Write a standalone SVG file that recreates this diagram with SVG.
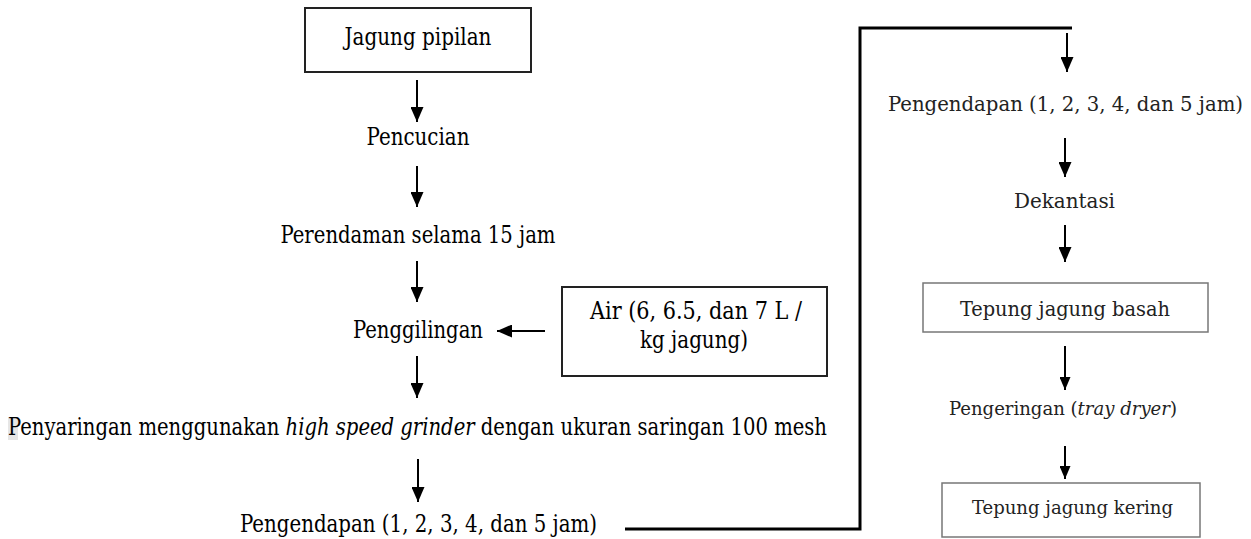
<svg xmlns="http://www.w3.org/2000/svg" width="1251" height="539" viewBox="0 0 1251 539">
<style>
.t{font-family:'DejaVu Serif Condensed','DejaVu Serif',serif;font-size:25px;fill:#000}
.r{font-family:'DejaVu Serif Condensed','DejaVu Serif',serif;font-size:21px;fill:#222}
.rs{font-family:'DejaVu Serif Condensed','DejaVu Serif',serif;font-size:18px;fill:#222}
.i{font-style:italic}
.box{fill:#fff;stroke:#222;stroke-width:2}
.gbox{fill:#fff;stroke:#777;stroke-width:1.5}
.ar{stroke:#000;stroke-width:2;fill:none;marker-end:url(#ah)}
.ars{stroke:#000;stroke-width:2;fill:none;marker-end:url(#ahs)}
.ln{stroke:#000;stroke-width:3;fill:none}
</style>
<defs>
<marker id="ah" viewBox="0 0 15 13" refX="15" refY="6.5" markerWidth="15" markerHeight="13" markerUnits="userSpaceOnUse" orient="auto">
<path d="M0,0 L15,6.5 L0,13 Z" fill="#000"/>
</marker>
<marker id="ahs" viewBox="0 0 13 11" refX="13" refY="5.5" markerWidth="13" markerHeight="11" markerUnits="userSpaceOnUse" orient="auto">
<path d="M0,0 L13,5.5 L0,11 Z" fill="#000"/>
</marker>
</defs>
<rect width="1251" height="539" fill="#fff"/>

<g id="connectors">
<line class="ar" x1="417" y1="80" x2="417" y2="122"/>
<line class="ar" x1="417" y1="166" x2="417" y2="207"/>
<line class="ar" x1="417" y1="261" x2="417" y2="302"/>
<line class="ar" x1="545" y1="331" x2="497" y2="331"/>
<line class="ar" x1="417" y1="356" x2="417" y2="398"/>
<line class="ar" x1="418" y1="459" x2="418" y2="502"/>
<polyline class="ln" points="625,529 860,529 860,28 1072,28"/>
<line class="ar" x1="1067" y1="33" x2="1067" y2="72"/>
<line class="ar" x1="1065" y1="138" x2="1065" y2="177"/>
<line class="ar" x1="1065" y1="225" x2="1065" y2="262"/>
<line class="ars" x1="1065" y1="346" x2="1065" y2="390"/>
<line class="ars" x1="1065" y1="446" x2="1065" y2="479"/>
</g>

<g id="n1">
<rect class="box" x="305" y="8" width="226" height="64"/>
<text class="t" x="418" y="45" text-anchor="middle" textLength="147" lengthAdjust="spacingAndGlyphs">Jagung pipilan</text>
</g>
<g id="n2">
<text class="t" x="418" y="145" text-anchor="middle" textLength="103" lengthAdjust="spacingAndGlyphs">Pencucian</text>
</g>
<g id="n3">
<text class="t" x="418" y="243" text-anchor="middle" textLength="275" lengthAdjust="spacingAndGlyphs">Perendaman selama 15 jam</text>
</g>
<g id="n4">
<text class="t" x="418" y="338" text-anchor="middle" textLength="130" lengthAdjust="spacingAndGlyphs">Penggilingan</text>
</g>
<g id="n5">
<rect class="box" x="562" y="287" width="265" height="89"/>
<text class="t" x="696" y="319" text-anchor="middle" textLength="212" lengthAdjust="spacingAndGlyphs">Air (6, 6.5, dan 7 L /</text>
<text class="t" x="694" y="348" text-anchor="middle" textLength="108" lengthAdjust="spacingAndGlyphs">kg jagung)</text>
</g>
<g id="n6">
<rect x="8" y="417" width="10" height="23" fill="#e6e6e6"/>
<text class="t" x="8" y="435" textLength="819" lengthAdjust="spacingAndGlyphs">Penyaringan menggunakan <tspan class="i">high speed grinder</tspan> dengan ukuran saringan 100 mesh</text>
</g>
<g id="n7">
<text class="t" x="240" y="532" textLength="357" lengthAdjust="spacingAndGlyphs">Pengendapan (1, 2, 3, 4, dan 5 jam)</text>
</g>
<g id="n8">
<text class="r" x="888" y="111" textLength="355" lengthAdjust="spacingAndGlyphs">Pengendapan (1, 2, 3, 4, dan 5 jam)</text>
</g>
<g id="n9">
<text class="r" x="1014" y="208" textLength="101" lengthAdjust="spacingAndGlyphs">Dekantasi</text>
</g>
<g id="n10">
<rect class="gbox" x="923" y="283" width="285" height="49"/>
<text class="r" x="1065" y="316" text-anchor="middle" textLength="210" lengthAdjust="spacingAndGlyphs">Tepung jagung basah</text>
</g>
<g id="n11">
<text class="rs" x="949" y="415" textLength="228" lengthAdjust="spacingAndGlyphs">Pengeringan (<tspan class="i">tray dryer</tspan>)</text>
</g>
<g id="n12">
<rect class="gbox" x="942" y="483" width="258" height="54"/>
<text class="rs" x="972" y="514" textLength="201" lengthAdjust="spacingAndGlyphs">Tepung jagung kering</text>
</g>
</svg>
